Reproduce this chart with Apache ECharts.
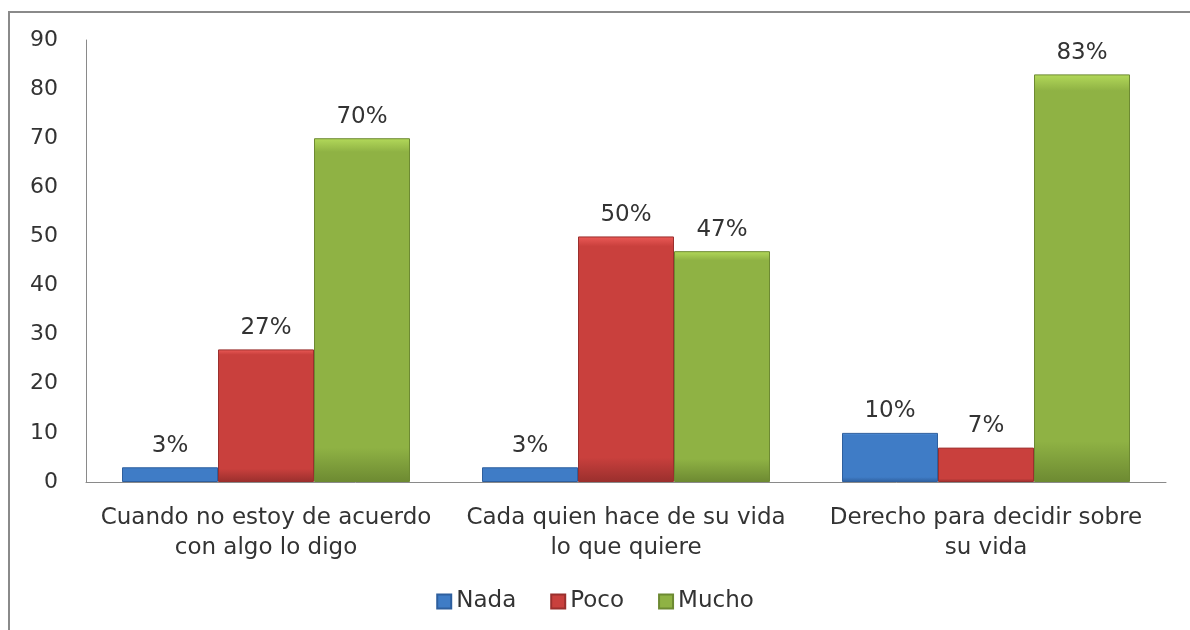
<!DOCTYPE html>
<html>
<head>
<meta charset="utf-8">
<script src="https://cdn.jsdelivr.net/npm/echarts@6/dist/echarts.min.js"></script>
<style>
    html, body {margin: 0; padding: 0; background: #fff;}
    #main {width: 1190px; height: 630px;}
</style>
</head>
<body>
<div id="main"></div>
<script>
var categorias = ['Cuando no estoy de acuerdo\ncon algo lo digo', 'Cada quien hace de su vida\nlo que quiere', 'Derecho para decidir sobre\nsu vida'];
var nada = [3, 3, 10];
var poco = [27, 50, 7];
var mucho = [70, 47, 83];
var ticksY = [0, 10, 20, 30, 40, 50, 60, 70, 80, 90];

var fuente = 'DejaVu Sans';

// degradado vertical para imitar el bisel de excel
function relleno(claro, medio, oscuro) {
    return new echarts.graphic.LinearGradient(0, 0, 0, 1, [
        {offset: 0, color: claro},
        {offset: 0.04, color: medio},
        {offset: 0.9, color: medio},
        {offset: 1, color: oscuro}
    ]);
}

function serie(nombre, datos, claro, medio, oscuro) {
    return {
        name: nombre,
        type: 'bar',
        data: datos,
        barGap: 0,
        barCategoryGap: '20%',
        itemStyle: {
            color: relleno(claro, medio, oscuro),
            borderColor: oscuro,
            borderWidth: 1
        },
        label: {
            show: true,
            position: 'top',
            distance: 10,
            formatter: '{c}%',
            color: '#333',
            fontFamily: fuente,
            fontSize: 23
        }
    };
}

var myChart = echarts.init(document.getElementById('main'));

var option = {
    animation: false,
    color: ['#3f7cc6', '#c9403d', '#8fb244'],
    graphic: [{
        type: 'rect',
        shape: {x: 9, y: 12, width: 1200, height: 640},
        style: {fill: 'none', stroke: '#8a8a8a', lineWidth: 2},
        silent: true
    }],
    grid: {left: 86, right: 24, top: 40, bottom: 148},
    legend: {
        bottom: 12,
        left: 'center',
        itemWidth: 14,
        itemHeight: 14,
        itemGap: 34,
        icon: 'rect',
        textStyle: {color: '#333', fontFamily: fuente, fontSize: 23},
        data: ['Nada', 'Poco', 'Mucho']
    },
    xAxis: {
        type: 'category',
        data: categorias,
        axisLine: {lineStyle: {color: '#8a8a8a', width: 1}},
        axisTick: {show: false},
        axisLabel: {
            color: '#333',
            fontFamily: fuente,
            fontSize: 23,
            lineHeight: 30,
            margin: 21,
            interval: 0
        }
    },
    yAxis: {
        type: 'value',
        min: ticksY[0],
        max: ticksY[ticksY.length - 1],
        interval: 10,
        splitLine: {show: false},
        axisLine: {show: true, lineStyle: {color: '#8a8a8a', width: 1}},
        axisTick: {show: false},
        axisLabel: {
            color: '#333',
            fontFamily: fuente,
            fontSize: 22,
            margin: 28
        }
    },
    series: [
        serie('Nada', nada, '#6aa8ee', '#3f7cc6', '#2e5f9e'),
        serie('Poco', poco, '#ec5a57', '#c9403d', '#9a2f2d'),
        serie('Mucho', mucho, '#b3d95a', '#8fb244', '#6d8a32')
    ]
};

myChart.setOption(option);
</script>
</body>
</html>
